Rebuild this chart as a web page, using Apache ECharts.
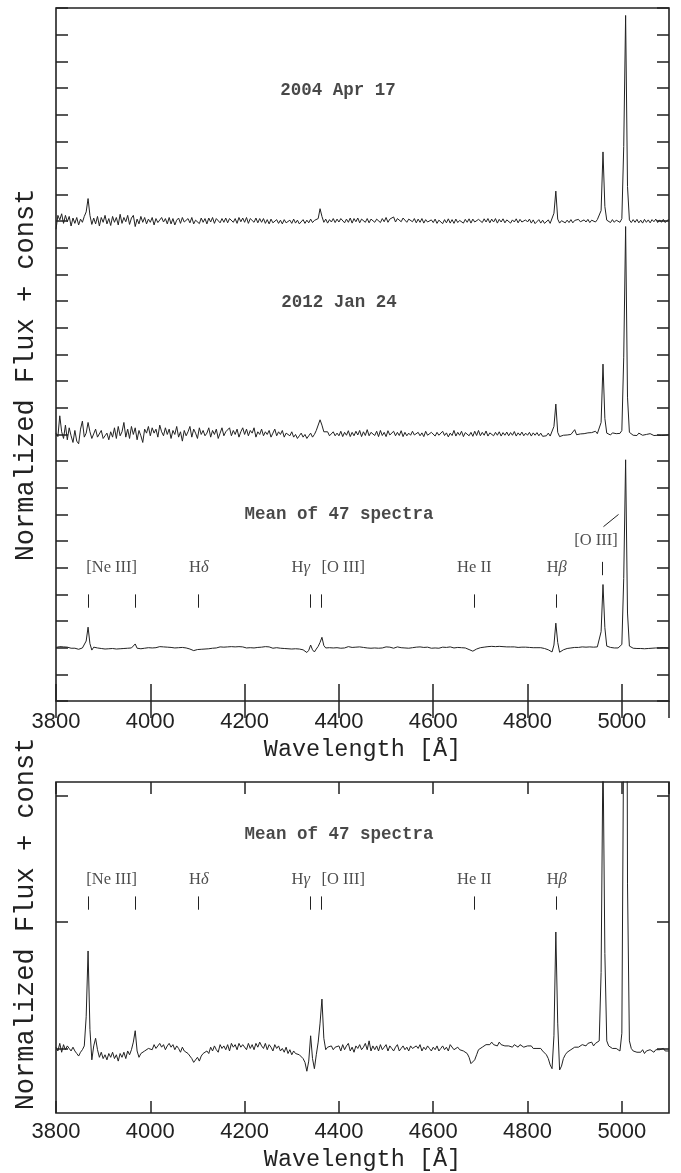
<!DOCTYPE html>
<html>
<head>
<meta charset="utf-8">
<script src="https://cdn.jsdelivr.net/npm/echarts@6/dist/echarts.min.js"></script>
<style>
  html, body { margin: 0; padding: 0; background: #fff; }
  #chart { width: 681px; height: 1173px; }
</style>
</head>
<body>
<div id="chart"></div>
<script>
// wavelength grid of the spectra (Angstrom)
const WAVE_START = 3800;
const WAVE_STEP = 4;

// normalized flux, one value per 4 A, 3800..5100
const FLUX_2004 = [
  0.70, 1.22, 1.05, 1.28, 0.92, 1.22, 0.98, 1.18, 0.82, 1.12,
  0.92, 1.14, 0.86, 1.08, 0.96, 1.18, 1.35, 1.85, 1.22, 0.88,
  1.12, 0.90, 1.18, 0.82, 1.14, 0.96, 1.22, 0.90, 1.10, 0.84,
  1.18, 0.96, 1.14, 0.86, 1.26, 0.92, 1.14, 0.98, 1.22, 0.88,
  1.12, 1.22, 0.80, 1.08, 0.90, 1.18, 0.96, 1.14, 0.90, 1.08,
  0.96, 1.14, 0.86, 1.10, 0.95, 0.90, 1.14, 0.97, 1.10, 0.90,
  1.14, 0.90, 1.10, 0.86, 1.04, 1.12, 0.92, 1.14, 0.97, 0.90,
  1.10, 0.94, 1.14, 0.90, 1.04, 1.10, 0.91, 1.12, 0.96, 1.10,
  0.90, 1.12, 0.97, 1.14, 0.92, 1.10, 1.16, 0.94, 1.10, 0.96,
  1.12, 0.94, 1.10, 1.16, 0.96, 1.10, 0.92, 1.14, 0.98, 1.12,
  0.96, 1.14, 0.92, 1.10, 1.16, 0.96, 1.12, 0.94, 1.10, 0.96,
  1.10, 0.92, 1.06, 0.90, 1.08, 0.94, 0.88, 1.06, 0.92, 1.04,
  0.90, 1.06, 0.94, 0.88, 1.04, 0.92, 1.08, 0.93, 1.04, 0.90,
  0.96, 1.06, 0.92, 1.04, 0.94, 1.08, 0.95, 1.03, 1.06, 1.10,
  1.47, 1.18, 0.96, 1.08, 0.93, 1.06, 0.97, 1.10, 0.95, 1.08,
  0.97, 1.10, 1.12, 0.94, 1.08, 0.96, 1.12, 0.93, 1.10, 0.98,
  1.12, 0.94, 1.08, 1.14, 0.96, 1.10, 0.94, 1.08, 1.12, 0.96,
  1.08, 1.15, 0.95, 1.10, 0.98, 1.14, 0.96, 1.08, 1.12, 1.16,
  0.97, 1.10, 1.14, 0.98, 1.12, 1.18, 0.96, 1.08, 1.14, 0.98,
  1.10, 0.94, 1.08, 0.96, 1.10, 0.93, 1.06, 0.97, 0.92, 1.05,
  0.95, 1.08, 0.92, 1.04, 0.98, 0.91, 1.06, 0.94, 1.09, 0.93,
  1.06, 0.92, 1.08, 0.95, 1.03, 1.10, 0.93, 1.07, 0.96, 1.09,
  0.93, 1.08, 0.97, 0.92, 1.07, 1.12, 0.95, 1.09, 0.97, 1.10,
  0.94, 1.08, 0.97, 1.10, 0.93, 1.07, 0.97, 1.09, 0.94, 1.05,
  1.08, 0.93, 1.05, 0.97, 1.09, 0.94, 1.07, 0.97, 0.92, 1.05,
  0.97, 1.08, 0.93, 1.05, 0.91, 0.98, 1.06, 0.93, 1.04, 0.92,
  0.96, 1.05, 0.92, 0.97, 1.30, 2.13, 1.08, 0.93, 1.02, 1.05,
  0.94, 1.04, 0.95, 1.06, 0.94, 1.03, 0.96, 1.07, 0.98, 0.95,
  1.05, 0.97, 1.07, 0.95, 1.04, 1.09, 0.97, 1.06, 1.10, 1.40,
  3.60, 1.55, 1.04, 0.97, 0.95, 1.06, 0.96, 1.04, 1.08, 0.96,
  1.10, 3.80, 8.72, 2.30, 1.05, 0.95, 1.06, 0.96, 1.07, 0.94,
  1.04, 0.93, 1.07, 0.96, 1.05, 0.94, 1.06, 0.98, 1.08, 0.95,
  1.05, 0.96, 1.07, 0.95, 1.03, 1.06
];

const FLUX_2012 = [
  1.05, 0.92, 1.70, 1.10, 0.85, 1.35, 0.80, 1.25, 0.95, 0.70,
  1.15, 0.75, 0.65, 1.20, 1.50, 0.90, 1.05, 1.45, 1.10, 0.85,
  0.80, 1.20, 0.90, 0.95, 1.15, 0.85, 0.95, 1.05, 0.80, 1.10,
  0.90, 1.25, 0.85, 1.30, 0.95, 1.10, 1.45, 0.90, 1.20, 0.85,
  1.30, 1.00, 1.25, 0.80, 1.15, 0.95, 0.70, 1.20, 1.05, 1.30,
  0.95, 1.25, 1.05, 1.20, 0.90, 1.35, 1.10, 0.95, 1.25, 1.00,
  1.20, 0.85, 1.15, 1.00, 1.30, 0.90, 1.10, 0.75, 1.15, 0.95,
  1.10, 1.30, 0.90, 1.20, 1.05, 0.85, 1.25, 1.00, 1.15, 0.95,
  1.05, 1.25, 0.90, 1.15, 1.00, 1.20, 0.85, 1.05, 1.25, 0.95,
  1.10, 1.05, 1.25, 0.95, 1.15, 1.00, 1.20, 0.90, 1.10, 1.25,
  1.00, 1.20, 0.95, 1.15, 1.05, 1.25, 0.90, 1.10, 1.00, 1.20,
  0.95, 1.10, 1.00, 1.15, 0.90, 1.05, 1.20, 0.95, 1.10, 1.00,
  1.15, 0.90, 1.05, 1.00, 0.95, 1.10, 0.90, 1.00, 0.85, 0.95,
  1.05, 0.90, 1.00, 0.85, 0.95, 1.05, 0.90, 1.00, 1.15, 1.20,
  1.55, 1.35, 1.10, 1.05, 1.10, 0.95, 1.00, 1.10, 0.95, 1.05,
  0.95, 1.12, 0.92, 1.08, 0.97, 1.14, 0.92, 1.08, 0.95, 1.12,
  0.98, 1.15, 0.92, 1.10, 0.96, 1.18, 0.95, 1.08, 1.14, 0.96,
  1.12, 0.92, 1.15, 0.96, 1.08, 0.92, 1.14, 0.98, 0.94, 1.12,
  0.95, 1.08, 0.96, 1.14, 0.92, 1.08, 0.95, 1.05, 0.97, 1.12,
  0.98, 0.92, 1.08, 0.95, 1.06, 0.92, 1.12, 0.97, 0.94, 1.08,
  1.05, 0.94, 1.08, 0.97, 0.92, 1.12, 0.96, 1.06, 0.91, 1.05,
  0.96, 1.15, 0.94, 1.08, 0.97, 1.12, 0.92, 1.07, 1.14, 0.95,
  1.08, 0.93, 1.12, 0.96, 1.15, 0.95, 1.08, 0.97, 1.13, 0.94,
  1.06, 1.12, 0.95, 1.08, 0.97, 1.10, 0.94, 1.07, 0.97, 1.09,
  0.95, 1.07, 0.97, 1.11, 0.94, 1.06, 0.97, 1.09, 0.95, 1.05,
  0.97, 1.08, 0.94, 1.06, 0.97, 1.07, 0.95, 1.05, 0.93, 0.98,
  0.95, 1.05, 0.94, 0.98, 1.30, 2.14, 1.08, 0.92, 0.95, 0.97,
  0.96, 0.98, 0.97, 1.00, 0.98, 1.18, 0.99, 1.00, 1.02, 1.00,
  1.03, 1.01, 1.06, 1.02, 1.07, 1.00, 1.12, 1.03, 1.08, 1.45,
  3.64, 1.60, 1.05, 1.12, 0.98, 1.06, 1.00, 1.03, 0.99, 1.04,
  1.15, 3.90, 8.80, 2.40, 1.08, 1.02, 0.97, 1.02, 0.96, 1.05,
  1.07, 0.97, 1.04, 1.00, 0.95, 1.03, 0.98, 0.96, 1.02, 0.97,
  1.00, 0.96, 1.02, 0.97, 1.02, 0.99
];

const FLUX_MEAN = [
  1.01, 0.98, 1.04, 0.97, 1.03, 0.99, 1.02, 1.00, 0.98, 1.01,
  0.98, 0.96, 0.94, 0.97, 0.99, 1.02, 1.25, 1.77, 1.15, 0.91,
  1.02, 1.08, 0.99, 0.93, 0.97, 0.92, 0.95, 0.91, 0.96, 0.93,
  0.97, 0.92, 0.95, 0.90, 0.96, 0.93, 0.97, 0.92, 0.98, 0.95,
  0.99, 1.05, 1.14, 0.98, 0.93, 0.96, 0.95, 0.98, 0.97, 1.00,
  1.01, 0.99, 1.03, 1.00, 1.02, 1.04, 1.01, 1.03, 0.99, 1.02,
  1.04, 1.01, 1.03, 0.99, 1.02, 1.00, 0.97, 1.01, 0.98, 0.99,
  0.96, 0.95, 0.92, 0.89, 0.88, 0.93, 0.90, 0.94, 0.96, 0.95,
  0.98, 0.96, 1.01, 0.98, 1.02, 0.99, 0.97, 1.03, 1.00, 1.02,
  0.99, 1.03, 0.98, 1.04, 1.01, 1.03, 0.99, 1.04, 1.01, 1.03,
  1.02, 0.99, 1.04, 1.00, 1.03, 0.99, 1.04, 1.01, 1.05, 1.02,
  1.00, 1.04, 0.99, 1.03, 1.01, 0.98, 1.03, 1.00, 1.02, 0.98,
  1.00, 0.97, 1.01, 0.96, 0.99, 0.95, 0.98, 0.96, 0.97, 0.95,
  0.94, 0.92, 0.89, 0.82, 0.90, 1.10, 0.92, 0.84, 0.95, 1.05,
  1.20, 1.39, 1.08, 0.99, 1.01, 1.00, 1.02, 0.99, 1.01, 1.00,
  1.02, 0.98, 1.03, 0.99, 1.02, 1.04, 0.98, 1.01, 0.97, 1.02,
  1.00, 1.03, 0.99, 1.01, 1.04, 0.99, 1.06, 0.98, 1.02, 0.99,
  1.02, 0.98, 1.03, 0.99, 1.01, 1.03, 0.98, 1.02, 1.00, 0.98,
  1.01, 1.03, 0.98, 1.00, 1.02, 0.99, 1.01, 0.98, 1.02, 1.00,
  0.99, 1.02, 1.00, 1.03, 0.98, 1.01, 0.99, 1.02, 1.00, 0.98,
  1.01, 0.99, 1.02, 0.98, 1.00, 1.02, 0.99, 1.01, 0.98, 1.03,
  1.04, 0.99, 1.00, 1.01, 0.99, 1.00, 0.98, 0.99, 0.96, 0.93,
  0.88, 0.87, 0.91, 0.95, 0.99, 1.00, 1.01, 1.02, 1.03, 1.04,
  1.03, 1.05, 1.03, 1.04, 1.02, 1.05, 1.03, 1.04, 1.02, 1.03,
  1.02, 1.03, 1.01, 1.03, 1.02, 1.01, 1.03, 1.02, 1.01, 1.02,
  1.02, 1.01, 1.02, 1.00, 1.01, 1.00, 0.99, 1.00, 0.98, 0.97,
  0.95, 0.92, 0.87, 0.84, 1.10, 1.92, 1.20, 0.83, 0.86, 0.92,
  0.95, 0.97, 0.98, 0.99, 1.00, 1.01, 1.02, 1.01, 1.02, 1.03,
  1.03, 1.02, 1.04, 1.03, 1.05, 1.02, 1.04, 1.03, 1.06, 1.60,
  3.37, 1.75, 1.06, 1.02, 1.01, 1.00, 0.99, 1.00, 0.99, 0.98,
  1.12, 3.60, 8.05, 2.30, 1.06, 1.00, 0.98, 0.99, 0.97, 0.98,
  0.97, 0.99, 0.96, 0.98, 0.97, 0.99, 0.98, 0.97, 0.99, 0.98,
  0.99, 0.98, 1.00, 0.98, 0.99, 0.98
];

// vertical shifts in the upper panel ("+ const")
const SHIFT_2004 = 17;
const SHIFT_2012 = 9;
const SHIFT_MEAN = 1;

// identified lines: marker wavelengths and label texts
const LINE_MARKS = [3869, 3968, 4102, 4340, 4363, 4686, 4861];
const LINE_LABELS = ['[Ne III]', 'H{i|δ}', 'H{i|γ}', '[O III]', 'He II', 'H{i|β}'];
const LABEL_WAVE = [3918, 4103, 4319, 4409, 4687, 4862];
const OIII_MARK = 4959;
const OIII_LABEL_WAVE = 4945;

const INK = '#222';
const chart = echarts.init(document.getElementById('chart'));

function toPairs(flux, shift) {
  return flux.map((f, i) => [WAVE_START + i * WAVE_STEP, +(f + shift).toFixed(3)]);
}

function markSegs(waves, y0, y1) {
  return waves.map(w => [{ coord: [w, y0] }, { coord: [w, y1] }]);
}

function lineSeries(name, data, xi, yi, marks) {
  let s = {
    name: name, type: 'line', xAxisIndex: xi, yAxisIndex: yi,
    data: data, showSymbol: false, symbol: 'none', clip: true,
    lineStyle: { color: INK, width: 1 }, animation: false, silent: true
  };
  if (marks) {
    s.markLine = {
      silent: true, symbol: 'none', animation: false,
      label: { show: false },
      lineStyle: { color: INK, width: 1, type: 'solid' },
      data: marks
    };
  }
  return s;
}

function textSeries(xi, yi, items, style) {
  return {
    type: 'scatter', xAxisIndex: xi, yAxisIndex: yi, silent: true,
    symbolSize: 1, itemStyle: { color: 'rgba(0,0,0,0)' }, animation: false,
    data: items,
    label: Object.assign({
      show: true, position: 'inside', color: INK,
      formatter: p => p.data[2],
      rich: { i: { fontStyle: 'italic', fontFamily: '"Liberation Serif", serif', fontSize: 16.5, color: INK } }
    }, style)
  };
}

const monoFont = '"Liberation Mono", "DejaVu Sans Mono", monospace';
const dateFont = { fontFamily: monoFont, fontSize: 17.5, fontWeight: 'bold', color: '#1a1a1a' };
const lineFont = { fontFamily: '"Liberation Serif", serif', fontSize: 16.5 };

function xAxes(gi, tickLen, labelMargin, nameGap) {
  return [
    {
      type: 'value', gridIndex: gi, position: 'bottom', min: 3800, max: 5100, interval: 200,
      axisLine: { show: false }, splitLine: { show: false },
      axisTick: { inside: true, length: tickLen, lineStyle: { color: INK, width: 1.5 } },
      axisLabel: { color: INK, fontSize: 22, fontFamily: '"Liberation Sans", Arial, sans-serif',
        margin: labelMargin, showMaxLabel: false, formatter: v => String(v) },
      name: 'Wavelength [Å]', nameLocation: 'middle', nameGap: nameGap,
      nameTextStyle: { color: INK, fontSize: 23.5, fontFamily: monoFont }
    },
    {
      type: 'value', gridIndex: gi, position: 'top', min: 3800, max: 5100, interval: 200,
      axisLine: { show: false }, splitLine: { show: false }, axisLabel: { show: false },
      axisTick: { inside: true, length: tickLen, lineStyle: { color: INK, width: 1.5 } }
    }
  ];
}

function yAxes(gi, min, max, ticks) {
  const base = {
    type: 'value', gridIndex: gi, min: min, max: max,
    axisLine: { show: false }, splitLine: { show: false }, axisLabel: { show: false },
    axisTick: { inside: true, length: 12, customValues: ticks, lineStyle: { color: INK, width: 1.5 } }
  };
  return [
    Object.assign({}, base, { position: 'left' }),
    Object.assign({}, base, { position: 'right' })
  ];
}

function yTitle(cy) {
  return {
    type: 'text', x: 26, y: cy, rotation: Math.PI / 2, silent: true,
    style: {
      text: 'Normalized Flux + const', fill: INK, align: 'center', verticalAlign: 'middle',
      font: '27px ' + monoFont
    }
  };
}

const TOP_TICKS = [];
for (let v = 0; v <= 26; v++) TOP_TICKS.push(v);

const option = {
  animation: false,
  backgroundColor: '#fff',
  grid: [
    { left: 56, right: 12, top: 8, height: 693, show: true, borderColor: INK, borderWidth: 1.6 },
    { left: 56, right: 12, top: 782, height: 331, show: true, borderColor: INK, borderWidth: 1.6 }
  ],
  xAxis: [].concat(xAxes(0, 17, 10, 30), xAxes(1, 12, 8, 35)),
  yAxis: [].concat(yAxes(0, 0, 26, TOP_TICKS), yAxes(1, 0.49, 3.105, [1, 2, 3])),
  graphic: [yTitle(375), yTitle(924)],
  series: [
    lineSeries('2004', toPairs(FLUX_2004, SHIFT_2004), 0, 0),
    lineSeries('2012', toPairs(FLUX_2012, SHIFT_2012), 0, 0),
    lineSeries('mean', toPairs(FLUX_MEAN, SHIFT_MEAN), 0, 0,
      markSegs(LINE_MARKS, 3.5, 4.0).concat(
        markSegs([OIII_MARK], 4.72, 5.22),
        [[{ coord: [4961, 6.54] }, { coord: [4993, 7.0] }]]
      )),
    lineSeries('mean zoom', toPairs(FLUX_MEAN, 0), 2, 2, markSegs(LINE_MARKS, 2.096, 2.201)),
    textSeries(0, 0, [
      [4398, 22.92, '2004 Apr 17'],
      [4400, 14.94, '2012 Jan 24'],
      [4400, 7.0, 'Mean of 47 spectra']
    ], dateFont),
    textSeries(0, 0, LINE_LABELS.map((t, i) => [LABEL_WAVE[i], 5.0, t]).concat([[OIII_LABEL_WAVE, 6.0, '[O III]']]), lineFont),
    textSeries(2, 2, [[4400, 2.69, 'Mean of 47 spectra']], dateFont),
    textSeries(2, 2, LINE_LABELS.map((t, i) => [LABEL_WAVE[i], 2.33, t]), lineFont)
  ]
};

chart.setOption(option);
</script>
</body>
</html>
